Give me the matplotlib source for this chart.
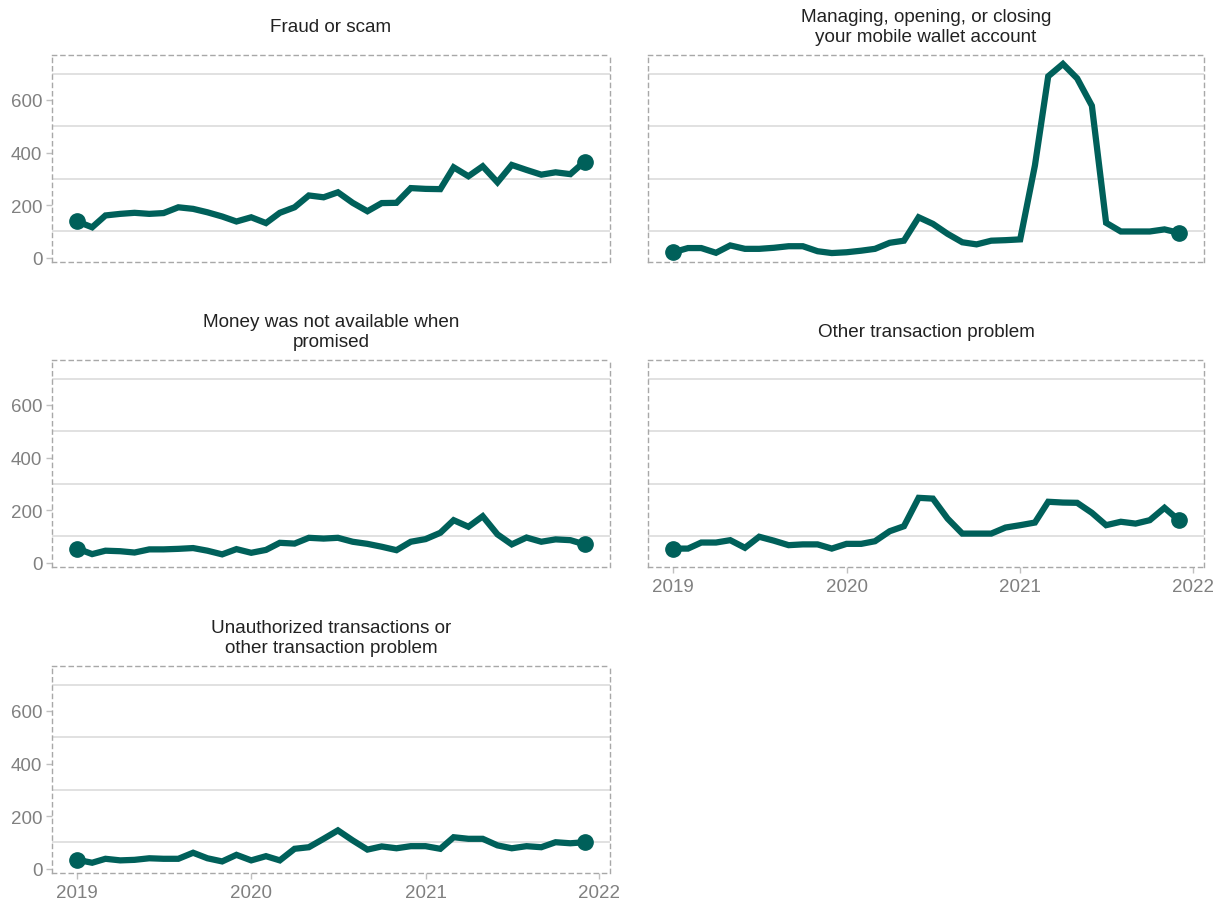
import numpy as np
import pandas as pd
import matplotlib as mpl
import matplotlib.pyplot as plt
import matplotlib.dates as mdates

mpl.rcParams.update({
    'font.family': ['Liberation Sans', 'DejaVu Sans'],
    'font.size': 12,
})

months = pd.date_range('2019-01-01', '2021-12-01', freq='MS')

titles = [
    'Fraud or scam',
    'Managing, opening, or closing\nyour mobile wallet account',
    'Money was not available when\npromised',
    'Other transaction problem',
    'Unauthorized transactions or\nother transaction problem',
]

fraud = [138, 116, 161, 167, 171, 167, 170, 192, 186, 173, 157, 138,
         154, 132, 171, 192, 237, 230, 249, 209, 177, 208, 209, 265,
         262, 261, 344, 310, 348, 287, 353, 334, 316, 325, 318, 366]
wallet = [21, 37, 37, 19, 47, 34, 34, 38, 44, 44, 25, 18,
          21, 27, 34, 57, 65, 154, 129, 91, 59, 51, 65, 67,
          70, 351, 690, 737, 682, 578, 133, 100, 100, 100, 108, 95]
money = [54, 33, 46, 44, 39, 51, 51, 53, 56, 46, 32, 52,
         38, 49, 76, 73, 95, 92, 95, 80, 72, 61, 48, 80,
         90, 114, 162, 137, 177, 108, 70, 96, 80, 89, 86, 70]
other = [54, 54, 77, 77, 86, 57, 99, 84, 67, 70, 70, 54,
         72, 72, 82, 120, 139, 247, 244, 168, 111, 111, 111, 134,
         143, 153, 232, 229, 228, 190, 143, 156, 149, 162, 209, 162]
unauth = [34, 23, 38, 32, 34, 40, 38, 38, 61, 40, 28, 53,
          32, 48, 32, 76, 82, 114, 146, 108, 73, 85, 78, 86,
          86, 76, 120, 114, 114, 89, 78, 86, 82, 101, 97, 101]
series = [fraud, wallet, money, other, unauth]

year_ticks = pd.to_datetime(['2019-01-01', '2020-01-01', '2021-01-01', '2022-01-01'])
y_ticks = [0, 200, 400, 600]
y_grid = [100, 300, 500, 700]

line_color = '#00605A'
border_color = '#a8a8a8'
W, H = 1223, 903

# panel boxes in pixels: left, top, right, bottom
boxes = [(52, 56, 610, 263), (648, 56, 1204, 263),
         (52, 361, 610, 568), (648, 361, 1204, 568),
         (52, 667, 610, 874)]

fig = plt.figure(figsize=(W / 100, H / 100), dpi=100)

x0 = mdates.date2num(months[0])
x1 = mdates.date2num(months[-1])
pad = (x1 - x0) * 0.05

for i, (title, vals, box) in enumerate(zip(titles, series, boxes)):
    l, t, r, b = box
    ax = fig.add_axes([l / W, 1 - b / H, (r - l) / W, (b - t) / H])
    ax.plot(months, vals, color=line_color, lw=4.5, solid_joinstyle='miter',
            solid_capstyle='butt', zorder=3)
    ax.plot([months[0], months[-1]], [vals[0], vals[-1]], 'o',
            color=line_color, ms=11, zorder=4)
    ax.set_xlim(x0 - pad, x1 + pad)
    ax.set_ylim(-16, 771)

    ax.set_yticks(y_ticks)
    ax.set_yticks(y_grid, minor=True)
    ax.grid(True, which='minor', axis='y', color='#dcdcdc', lw=1.2)
    ax.tick_params(axis='y', which='minor', length=0)

    left_col = i in (0, 2, 4)
    bottom_row = i in (3, 4)
    if left_col:
        ax.tick_params(axis='y', which='major', length=4, width=1,
                       color='#c0c0c0', labelcolor='#808080', labelsize=13.5, pad=3)
    else:
        ax.tick_params(axis='y', which='major', length=0, labelleft=False)

    ax.set_xticks(year_ticks)
    ax.xaxis.set_major_formatter(mdates.DateFormatter('%Y'))
    if bottom_row:
        ax.tick_params(axis='x', length=4, width=1, color='#c0c0c0',
                       labelcolor='#808080', labelsize=13.5, pad=4)
    else:
        ax.tick_params(axis='x', length=0, labelbottom=False)

    for s in ax.spines.values():
        s.set_linestyle((0, (3, 3)))
        s.set_color(border_color)
        s.set_linewidth(1)

    # strip title, centred in a two-line strip above the panel
    ax.text(0.5, 1 + 28.5 / (b - t), title, transform=ax.transAxes,
            ha='center', va='center', fontsize=13.6, color='#222222',
            linespacing=1.3)

fig.savefig('out.png', dpi=100)
